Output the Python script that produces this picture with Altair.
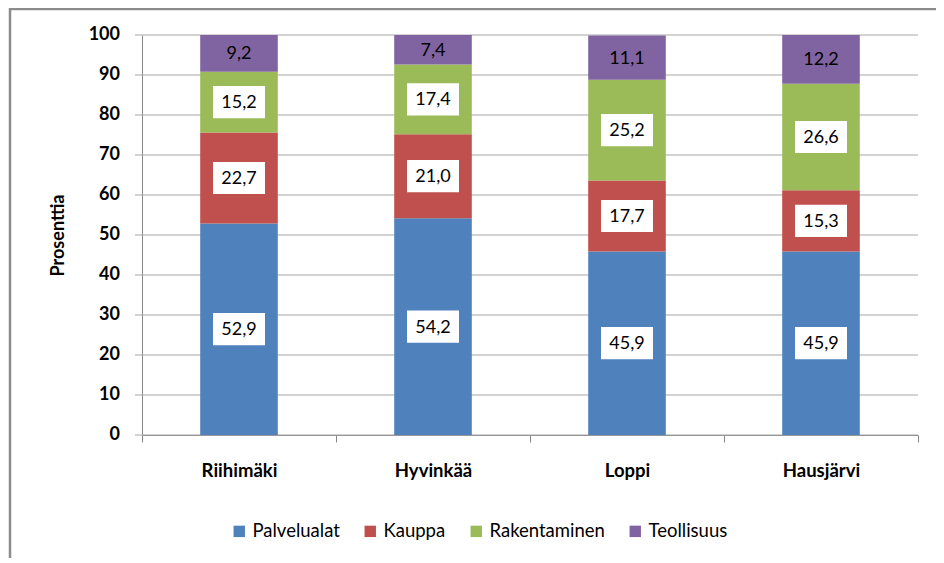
import altair as alt
import pandas as pd

municipalities = ["Riihimäki", "Hyvinkää", "Loppi", "Hausjärvi"]
sectors = ["Palvelualat", "Kauppa", "Rakentaminen", "Teollisuus"]
colors = ["#4f81bd", "#c0504d", "#9bbb59", "#8064a2"]
palvelualat = [52.9, 54.2, 45.9, 45.9]
kauppa = [22.7, 21.0, 17.7, 15.3]
rakentaminen = [15.2, 17.4, 25.2, 26.6]
teollisuus = [9.2, 7.4, 11.1, 12.2]
y_ticks = [0, 10, 20, 30, 40, 50, 60, 70, 80, 90, 100]

series = [palvelualat, kauppa, rakentaminen, teollisuus]
rows = []
for si, (name, vals) in enumerate(zip(sectors, series)):
    for m, v in zip(municipalities, vals):
        rows.append({"kunta": m, "ala": name, "arvo": v, "jarj": si,
                     "label": f"{v:.1f}".replace(".", ","),
                     "boxed": name != "Teollisuus"})
df = pd.DataFrame(rows)
ticks_df = pd.DataFrame({"t": y_ticks, "tl": [str(t) for t in y_ticks]})

FONT = "Lato"

yscale = alt.Scale(domain=[0, 100], nice=False)
yaxis = alt.Axis(title="Prosenttia", labels=False, ticks=False, grid=False,
                 domainColor="#868686", titleFont=FONT, titleFontSize=18,
                 titleFontWeight="bold", titleColor="#000000", titlePadding=75)

# gridlines + left tick marks, driven by the y scale
grid = alt.Chart(ticks_df).mark_rule(color="#a6a6a6", strokeWidth=1).encode(
    y=alt.Y("t:Q", scale=yscale, axis=yaxis),
    x=alt.value(-7), x2=alt.value(776),
)
ylabels = alt.Chart(ticks_df).mark_text(
    font=FONT, fontSize=18, fontWeight="bold", color="#000000",
    align="right", baseline="middle",
).encode(y=alt.Y("t:Q", scale=yscale, axis=yaxis), x=alt.value(-22), text="tl:N")

base = alt.Chart(df).encode(
    x=alt.X("kunta:N", sort=municipalities,
            scale=alt.Scale(paddingInner=0, paddingOuter=0),
            axis=alt.Axis(title=None, labelAngle=0, tickBand="extent",
                          labelFont=FONT, labelFontSize=18.5, labelFontWeight="bold",
                          labelColor="#000000", labelPadding=19, tickSize=7,
                          tickColor="#868686", domainColor="#868686",
                          grid=False)),
)

bars = base.mark_bar(width={"band": 0.4}).encode(
    y=alt.Y("arvo:Q", stack="zero", scale=yscale, axis=yaxis),
    color=alt.Color("ala:N", sort=sectors,
                    scale=alt.Scale(domain=sectors, range=colors),
                    legend=alt.Legend(title=None, orient="none", direction="horizontal",
                                      legendX=88, legendY=487, symbolType="square",
                                      symbolSize=130, symbolStrokeWidth=0,
                                      labelFont=FONT, labelFontSize=18.5,
                                      labelColor="#000000", columnPadding=21,
                                      labelOffset=4)),
    order=alt.Order("jarj:Q", sort="ascending"),
)

stacked = base.transform_stack(
    stack="arvo", as_=["lo", "hi"], groupby=["kunta"],
    sort=[alt.SortField("jarj", order="ascending")],
).transform_calculate(mid="(datum.lo + datum.hi) / 2")

boxes = stacked.transform_filter("datum.boxed").mark_point(
    shape="M-1,-0.62H1V0.62H-1Z", filled=True, fill="#ffffff",
    opacity=1, strokeWidth=0, size=2704,
).encode(y=alt.Y("mid:Q", scale=yscale, axis=yaxis))

labels = stacked.mark_text(font=FONT, fontSize=18, color="#000000",
                           baseline="middle", align="center", dy=1).encode(
    y=alt.Y("mid:Q", scale=yscale, axis=yaxis), text="label:N")

frame = alt.Chart(pd.DataFrame({"a": [0]})).mark_rect(
    fillOpacity=0, stroke="#8c8c8c", strokeWidth=2.5,
).encode(x=alt.value(-132), x2=alt.value(900), y=alt.value(-26), y2=alt.value(700))

chart = alt.layer(frame, grid, ylabels, bars, boxes, labels).properties(
    width=776, height=400,
    autosize=alt.AutoSizeParams(type="none"),
    padding={"left": 134, "top": 27, "right": 18, "bottom": 123},
).configure_view(stroke=None).configure_axisX(labelFlush=False)

chart.save("out.html", embed_options={"renderer": "svg", "actions": False})
